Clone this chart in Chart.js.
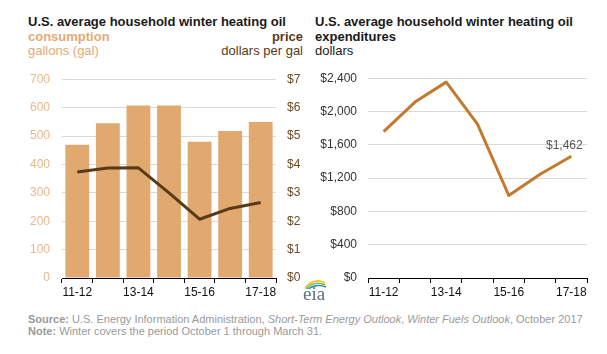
<!DOCTYPE html>
<html>
<head>
<meta charset="utf-8">
<script src="https://cdn.jsdelivr.net/npm/chart.js@4"></script>
<style>
  html, body { margin:0; padding:0; background:#fff; }
  body { width:607px; height:354px; position:relative; overflow:hidden; font-family:"Liberation Sans", Arial, sans-serif; }
  .t { position:absolute; white-space:nowrap; font-size:13px; line-height:15px; }
  .b { font-weight:bold; }
  canvas { position:absolute; }
  .foot { position:absolute; left:28px; font-size:11px; line-height:13px; color:#9a9a9a; white-space:nowrap; }
</style>
</head>
<body>
<div class="t b" style="left:28px;top:14px;color:#1a1a1a">U.S. average household winter heating oil</div>
<div class="t b" style="left:28px;top:29px;color:#e3ab74">consumption</div>
<div class="t b" style="right:304px;top:29px;color:#5a3a17">price</div>
<div class="t" style="left:28px;top:43px;color:#e3ab74">gallons (gal)</div>
<div class="t" style="right:304px;top:43px;color:#5a3a17">dollars per gal</div>

<div class="t b" style="left:315px;top:14px;color:#1a1a1a">U.S. average household winter heating oil</div>
<div class="t b" style="left:315px;top:29px;color:#1a1a1a">expenditures</div>
<div class="t" style="left:315px;top:43px;color:#1a1a1a">dollars</div>

<canvas id="c1" width="310" height="240" style="left:0;top:60px"></canvas>
<canvas id="c2" width="307" height="240" style="left:300px;top:60px"></canvas>

<svg style="position:absolute;left:302px;top:277px" width="26" height="12" viewBox="0 0 26 12">
  <path d="M3 11 Q12 0 23 6" stroke="#f2c230" stroke-width="1.6" fill="none"/>
  <path d="M4 12 Q12 3 23 8" stroke="#7cbf3a" stroke-width="1.6" fill="none"/>
  <path d="M5 13 Q13 6 24 10" stroke="#2a8fd0" stroke-width="1.6" fill="none"/>
</svg>
<div style="position:absolute;left:303px;top:284px;font-family:'Liberation Serif','DejaVu Serif',serif;font-size:19px;line-height:19px;color:#5f6f7f">eia</div>

<div class="foot" style="top:313px"><b>Source:</b> U.S. Energy Information Administration, <i>Short-Term Energy Outlook</i>, <i>Winter Fuels Outlook</i>, October 2017</div>
<div class="foot" style="top:325px"><b>Note:</b> Winter covers the period October 1 through March 31.</div>

<script>
const categories = ['11-12','12-13','13-14','14-15','15-16','16-17','17-18'];
const consumptionGal = [469, 545, 607, 607, 480, 518, 549];
const priceDollars = [3.73, 3.87, 3.88, 3.0, 2.07, 2.45, 2.66];
const expenditures = [1759, 2113, 2353, 1849, 991, 1247, 1462];
const lastLabel = '$1,462';

const FONT = "'Liberation Sans', Arial, sans-serif";
Chart.defaults.font.family = FONT;
Chart.defaults.font.size = 12;

function xAxis() {
  return {
    offset: true,
    grid: { offset: true, drawOnChartArea: false, drawTicks: true, tickLength: 5, tickColor: '#000', lineWidth: 1 },
    border: { display: true, color: '#000', width: 1 },
    ticks: {
      color: '#111', autoSkip: false, maxRotation: 0, padding: 2,
      callback: function(v, i) { return i % 2 === 0 ? categories[i] : ''; }
    },
    afterFit: s => { s.height = 22; }
  };
}

new Chart(document.getElementById('c1'), {
  data: {
    labels: categories,
    datasets: [
      { type: 'line', data: priceDollars, yAxisID: 'y1', borderColor: '#573a17', borderWidth: 3,
        pointRadius: 0, tension: 0, order: 0, borderJoinStyle: 'round' },
      { type: 'bar', data: consumptionGal, yAxisID: 'y', backgroundColor: '#e1a970',
        barPercentage: 0.78, categoryPercentage: 1, order: 1 }
    ]
  },
  options: {
    responsive: false, animation: false, devicePixelRatio: 1,
    layout: { padding: { top: 15, right: 0, left: 0, bottom: 0 } },
    plugins: { legend: { display: false }, tooltip: { enabled: false } },
    scales: {
      x: xAxis(),
      y: {
        position: 'left', min: 0, max: 700,
        ticks: { stepSize: 100, color: '#e8b98a', padding: 12 },
        grid: { color: '#d9d9d9', drawTicks: false, lineWidth: 1 },
        border: { display: false },
        afterFit: s => { s.width = 62; }
      },
      y1: {
        position: 'right', min: 0, max: 7,
        ticks: { stepSize: 1, color: '#6b4a22', padding: 11, callback: v => '$' + v },
        grid: { drawOnChartArea: false, drawTicks: false },
        border: { display: false },
        afterFit: s => { s.width = 34; }
      }
    }
  }
});

const labelPlugin = {
  id: 'lastLabel',
  afterDatasetsDraw(chart) {
    const meta = chart.getDatasetMeta(0);
    const p = meta.data[meta.data.length - 1];
    const ctx = chart.ctx;
    ctx.save();
    ctx.font = "12px " + FONT;
    ctx.fillStyle = '#555';
    ctx.textAlign = 'center';
    ctx.textBaseline = 'bottom';
    ctx.fillText(lastLabel, p.x - 7, p.y - 5);
    ctx.restore();
  }
};

new Chart(document.getElementById('c2'), {
  type: 'line',
  data: {
    labels: categories,
    datasets: [
      { data: expenditures, borderColor: '#c47a2e', borderWidth: 3, pointRadius: 0, tension: 0, borderJoinStyle: 'round' }
    ]
  },
  options: {
    responsive: false, animation: false, devicePixelRatio: 1,
    layout: { padding: { top: 15, right: 20, left: 0, bottom: 0 } },
    plugins: { legend: { display: false }, tooltip: { enabled: false } },
    scales: {
      x: xAxis(),
      y: {
        min: 0, max: 2400,
        ticks: { stepSize: 400, color: '#333', padding: 11,
          callback: v => '$' + v.toLocaleString('en-US') },
        grid: { color: '#d9d9d9', drawTicks: false, lineWidth: 1 },
        border: { display: false },
        afterFit: s => { s.width = 68; }
      }
    }
  },
  plugins: [labelPlugin]
});
</script>
</body>
</html>
